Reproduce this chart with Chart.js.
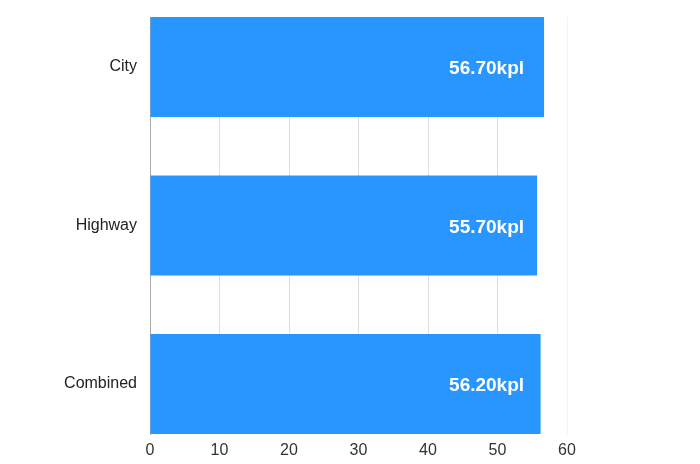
<!DOCTYPE html>
<html><head><meta charset="utf-8">
<script src="https://cdn.jsdelivr.net/npm/chart.js@4"></script>
<style>html,body{margin:0;padding:0;background:#fff}#wrap{width:700px;height:464px}</style>
</head><body><div id="wrap"><canvas id="c" width="700" height="464"></canvas></div>
<script>
const categories = ["City", "Highway", "Combined"];
const values = [56.7, 55.7, 56.2];
const unit = "kpl";
const xTicks = [0, 10, 20, 30, 40, 50, 60];

const valueLabels = {
  id: 'valueLabels',
  afterDatasetsDraw(chart) {
    const ctx = chart.ctx;
    const meta = chart.getDatasetMeta(0);
    const xRight = chart.scales.x.getPixelForValue(Math.max(...values)) - 20;
    ctx.save();
    ctx.font = 'bold 19px "Liberation Sans", Arial, sans-serif';
    ctx.fillStyle = '#ffffff';
    ctx.textAlign = 'right';
    ctx.textBaseline = 'middle';
    meta.data.forEach((bar, i) => {
      ctx.fillText(values[i].toFixed(2) + unit, xRight, bar.y + 2);
    });
    ctx.restore();
  }
};

new Chart(document.getElementById('c'), {
  type: 'bar',
  data: {
    datasets: [{
      data: values.map((v, i) => ({ x: v, y: i })),
      backgroundColor: '#2996FF',
      borderWidth: 0,
      barPercentage: 0.63,
      categoryPercentage: 1.0
    }]
  },
  options: {
    indexAxis: 'y',
    responsive: false,
    animation: false,
    layout: { padding: { top: 0, right: 133, left: 0, bottom: 0 } },
    plugins: { legend: { display: false }, tooltip: { enabled: false } },
    scales: {
      x: {
        type: 'linear',
        min: 0, max: 60,
        afterBuildTicks(scale) { scale.ticks = xTicks.map(v => ({ value: v })); },
        afterFit(scale) { scale.height = 30; },
        grid: {
          color: ctx => (ctx.tick && ctx.tick.value === 60) ? '#f2f2f2' : '#dddddd',
          lineWidth: 1,
          drawTicks: false
        },
        border: { display: false },
        ticks: {
          padding: 7,
          color: '#333333',
          font: { family: '"Liberation Sans", Arial, sans-serif', size: 16 }
        }
      },
      y: {
        type: 'linear',
        reverse: true,
        min: -0.315, max: categories.length - 1 + 0.315,
        offset: false,
        afterBuildTicks(scale) { scale.ticks = categories.map((c, i) => ({ value: i })); },
        afterFit(scale) { scale.width = 150; scale.paddingTop = 17; scale.paddingBottom = 0; },
        grid: { display: false, drawTicks: false },
        border: { display: true, color: '#aaaaaa', width: 1 },
        ticks: {
          padding: 13,
          color: '#222222',
          callback: v => categories[v],
          font: { family: '"Liberation Sans", Arial, sans-serif', size: 16 }
        }
      }
    }
  },
  plugins: [valueLabels]
});
</script></body></html>
